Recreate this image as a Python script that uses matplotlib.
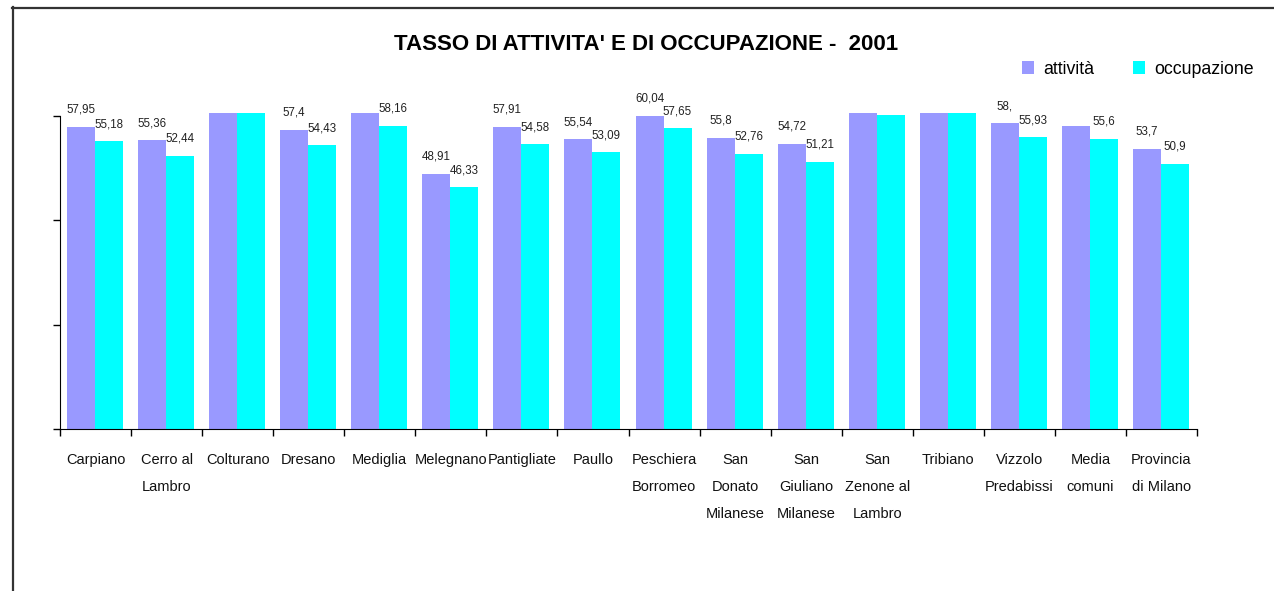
import matplotlib.pyplot as plt
from matplotlib.lines import Line2D
from matplotlib import font_manager
import numpy as np

# comuni (multi-line labels as in the original chart)
comuni = ["Carpiano", "Cerro al\nLambro", "Colturano", "Dresano", "Mediglia",
          "Melegnano", "Pantigliate", "Paullo", "Peschiera\nBorromeo",
          "San\nDonato\nMilanese", "San\nGiuliano\nMilanese", "San\nZenone al\nLambro",
          "Tribiano", "Vizzolo\nPredabissi", "Media\ncomuni", "Provincia\ndi Milano"]

# tassi (values above 60 are clipped in the original, estimated)
attivita = [57.95, 55.36, 61.5, 57.4, 61.2, 48.91, 57.91, 55.54,
            60.04, 55.8, 54.72, 61.0, 61.8, 58.6, 58.2, 53.7]
occupazione = [55.18, 52.44, 61.0, 54.43, 58.16, 46.33, 54.58, 53.09,
               57.65, 52.76, 51.21, 60.3, 61.2, 55.93, 55.6, 50.9]

# data labels as printed on the chart ('' = not shown)
lab_att = ["57,95", "55,36", "", "57,4", "", "48,91", "57,91", "55,54",
           "60,04", "55,8", "54,72", "", "", "58,", "", "53,7"]
lab_occ = ["55,18", "52,44", "", "54,43", "58,16", "46,33", "54,58", "53,09",
           "57,65", "52,76", "51,21", "", "", "55,93", "55,6", "50,9"]

installed = {f.name for f in font_manager.fontManager.ttflist}
narrow = "Liberation Sans Narrow" if "Liberation Sans Narrow" in installed else "Liberation Sans"
tick_size = 12.6 if narrow == "Liberation Sans Narrow" else 10.5

W, H = 1274, 591
fig = plt.figure(figsize=(W / 100, H / 100), dpi=100)
ax = fig.add_axes([60 / W, 1 - 429 / H, (1197 - 60) / W, (429 - 113) / H])

n = len(comuni)
x = np.arange(n) + 0.493
bw = 0.394
ax.bar(x - bw / 2, attivita, bw, color="#9999FF", label="attività")
ax.bar(x + bw / 2, occupazione, bw, color="#00FFFF", label="occupazione")

for xi, v, t in zip(x - bw / 2, attivita, lab_att):
    if t:
        ax.annotate(t, (xi, v), xytext=(0, 8), textcoords="offset points",
                    ha="center", va="bottom", fontsize=8.3, family="Liberation Sans",
                    color="#222222", annotation_clip=False)
for xi, v, t in zip(x + bw / 2, occupazione, lab_occ):
    if t:
        ax.annotate(t, (xi, v), xytext=(0, 8), textcoords="offset points",
                    ha="center", va="bottom", fontsize=8.3, family="Liberation Sans",
                    color="#222222", annotation_clip=False)

ax.set_xlim(0, n)
ax.set_ylim(0, 60.6)
ax.set_yticks([0, 20, 40, 60])
ax.set_yticklabels([])
ax.tick_params(axis="y", direction="out", length=5, width=1)
ax.spines["left"].set_bounds(0, 60)
ax.spines["top"].set_visible(False)
ax.spines["right"].set_visible(False)

ax.set_xticks(np.arange(n + 1))
ax.set_xticklabels([])
ax.tick_params(axis="x", which="major", direction="out", length=5, width=1)
ax.set_xticks(np.arange(n) + 0.5, minor=True)
ax.set_xticklabels(comuni, minor=True, fontsize=tick_size, family=narrow,
                   linespacing=2.2, va="top", color="#111111")
ax.tick_params(axis="x", which="minor", length=0, pad=17)

fig.text(646 / W, 1 - 45 / H, "TASSO DI ATTIVITA' E DI OCCUPAZIONE -  2001",
         ha="center", va="center", fontsize=16, fontweight="bold",
         family="Liberation Sans")

fig.legend(loc="center right", bbox_to_anchor=(1270 / W, 1 - 69 / H), ncol=2,
           frameon=False, handlelength=0.7, handleheight=0.7, handletextpad=0.5,
           columnspacing=2.2, prop={"family": narrow, "size": 12.8})

# chart area border (left and top only visible)
fig.add_artist(Line2D([12.5 / W, 12.5 / W], [0, 1 - 7 / H], color="#333333", lw=1.6))
fig.add_artist(Line2D([12 / W, 1], [1 - 7.5 / H, 1 - 7.5 / H], color="#333333", lw=1.6))

fig.savefig("out.png", dpi=100)
